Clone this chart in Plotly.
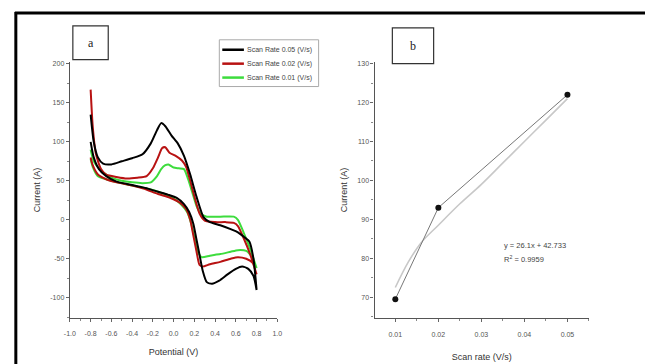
import plotly.graph_objects as go

W, H = 650, 364

# ---------------- data: panel a (cyclic voltammograms) ----------------
# scan rate 0.05 V/s
e05_fwd = [-0.80, -0.77, -0.73, -0.68, -0.60, -0.50, -0.40, -0.30, -0.22, -0.16, -0.12, -0.08, -0.02, 0.04, 0.10, 0.16, 0.22, 0.29, 0.35, 0.45, 0.55, 0.62, 0.68, 0.73, 0.77, 0.80]
i05_fwd = [135, 100, 80, 72, 71, 75, 79, 84, 98, 115, 124, 120, 108, 98, 82, 58, 30, 3, -3, -7, -12, -16, -22, -28, -50, -90]
e05_rev = [0.80, 0.77, 0.72, 0.66, 0.60, 0.52, 0.44, 0.37, 0.32, 0.28, 0.25, 0.22, 0.19, 0.15, 0.10, 0.03, -0.05, -0.15, -0.25, -0.35, -0.45, -0.55, -0.65, -0.72, -0.77, -0.80]
i05_rev = [-90, -72, -63, -60, -63, -70, -78, -82, -80, -65, -45, -25, -5, 10, 20, 28, 32, 36, 40, 43, 46, 49, 56, 65, 80, 100]

# scan rate 0.02 V/s
e02_fwd = [-0.80, -0.78, -0.75, -0.70, -0.65, -0.55, -0.45, -0.35, -0.26, -0.20, -0.15, -0.11, -0.08, -0.04, 0.02, 0.08, 0.12, 0.16, 0.20, 0.25, 0.30, 0.40, 0.50, 0.58, 0.62, 0.68, 0.74, 0.80]
i02_fwd = [167, 120, 85, 65, 58, 55, 53, 54, 56, 66, 80, 92, 93, 86, 82, 76, 68, 50, 30, 8, -1, -3, -3, -4, -8, -25, -45, -70]
e02_rev = [0.80, 0.76, 0.70, 0.62, 0.55, 0.45, 0.35, 0.28, 0.25, 0.22, 0.19, 0.16, 0.12, 0.06, -0.03, -0.15, -0.29, -0.40, -0.55, -0.65, -0.73, -0.78, -0.80]
i02_rev = [-70, -55, -50, -48, -50, -54, -57, -60, -58, -40, -20, 0, 14, 22, 28, 33, 40, 44, 48, 52, 58, 70, 80]

# scan rate 0.01 V/s
e01_fwd = [-0.80, -0.77, -0.72, -0.67, -0.60, -0.50, -0.40, -0.30, -0.22, -0.16, -0.12, -0.08, -0.05, 0.00, 0.05, 0.10, 0.14, 0.18, 0.22, 0.26, 0.32, 0.45, 0.58, 0.62, 0.68, 0.74, 0.80]
i01_fwd = [90, 75, 66, 60, 54, 50, 48, 47, 48, 56, 65, 70, 71, 67, 66, 65, 52, 35, 18, 8, 4, 4, 4, 0, -18, -38, -62]
e01_rev = [0.80, 0.76, 0.70, 0.62, 0.55, 0.45, 0.35, 0.27, 0.23, 0.20, 0.17, 0.13, 0.07, -0.03, -0.15, -0.29, -0.40, -0.54, -0.65, -0.73, -0.78, -0.80]
i01_rev = [-62, -48, -40, -39, -41, -44, -46, -48, -40, -22, -5, 10, 20, 30, 36, 41, 44, 48, 52, 56, 68, 78]

series_names = ["Scan Rate 0.05 (V/s)", "Scan Rate 0.02 (V/s)", "Scan Rate 0.01 (V/s)"]
series_colors = ["#000000", "#b81212", "#3ddc3d"]

# ---------------- data: panel b ----------------
scan_rate = [0.01, 0.02, 0.05]
peak_current = [69.5, 93.0, 122.0]
fit_rate = [0.010, 0.013, 0.016, 0.020, 0.025, 0.030, 0.035, 0.040, 0.045, 0.050]
fit_current = [72.5, 79.0, 84.0, 88.5, 94.0, 99.0, 104.5, 110.0, 115.5, 121.0]
eq_text = ["y = 26.1x + 42.733", "R<sup>2</sup> = 0.9959"]

ya_ticks = [-100, -50, 0, 50, 100, 150, 200]
xa_ticks = [-1.0, -0.8, -0.6, -0.4, -0.2, 0.0, 0.2, 0.4, 0.6, 0.8, 1.0]
yb_ticks = [70, 80, 90, 100, 110, 120, 130]
xb_ticks = [0.01, 0.02, 0.03, 0.04, 0.05]

fig = go.Figure()

loops = [
    (e05_fwd + e05_rev, i05_fwd + i05_rev),
    (e02_fwd + e02_rev, i02_fwd + i02_rev),
    (e01_fwd + e01_rev, i01_fwd + i01_rev),
]
# draw lowest scan rate first so the black sits on top
for idx in [2, 1, 0]:
    ex, iy = loops[idx]
    fig.add_trace(go.Scatter(x=ex, y=iy, mode="lines", name=series_names[idx],
                             line=dict(color=series_colors[idx], width=2.0, shape="spline", smoothing=0.6),
                             xaxis="x", yaxis="y", showlegend=False))

fig.add_trace(go.Scatter(x=fit_rate, y=fit_current, mode="lines",
                         line=dict(color="#c8c8c8", width=1.6, shape="spline"),
                         xaxis="x2", yaxis="y2", showlegend=False))
fig.add_trace(go.Scatter(x=scan_rate, y=peak_current, mode="lines+markers",
                         line=dict(color="#777777", width=1),
                         marker=dict(color="#111111", size=6),
                         xaxis="x2", yaxis="y2", showlegend=False))

def px(x):
    return x / W

def py(y):
    return 1 - y / H

tickfont = dict(family="Liberation Sans, Arial", size=7, color="#555555")
titlefont = dict(family="Liberation Sans, Arial", size=9, color="#333333")

axis_common = dict(showgrid=False, zeroline=False, showline=True, linecolor="#555555", linewidth=1.4,
                   ticks="outside", ticklen=3, tickcolor="#666666", tickfont=tickfont,
                   minor=dict(ticks="outside", ticklen=2, tickcolor="#888888"))

fig.update_layout(
    width=W, height=H, margin=dict(l=0, r=0, t=0, b=0),
    paper_bgcolor="white", plot_bgcolor="white", showlegend=False,
    xaxis=dict(domain=[px(65), px(276)], range=[-1.0, 1.0], anchor="y",
               tickvals=xa_ticks, ticktext=["%.1f" % v for v in xa_ticks],
               ticklabelstandoff=5,
               title=dict(text="Potential (V)", font=titlefont, standoff=12),
               **axis_common),
    yaxis=dict(domain=[py(318), py(60)], range=[-126.3, 202.8], anchor="x",
               tickvals=ya_ticks, ticktext=[str(v) for v in ya_ticks],
               title=dict(text="Current (A)", font=titlefont, standoff=8),
               **axis_common),
    xaxis2=dict(domain=[px(375), px(593)], range=[0.0052, 0.055], anchor="y2",
                tickvals=xb_ticks, ticktext=["%.2f" % v for v in xb_ticks],
                ticklabelstandoff=6,
                title=dict(text="Scan rate (V/s)", font=titlefont, standoff=16),
                **axis_common),
    yaxis2=dict(domain=[py(318), py(60)], range=[64.6, 130.5], anchor="x2",
                tickvals=yb_ticks, ticktext=[str(v) for v in yb_ticks],
                title=dict(text="Current (A)", font=titlefont, standoff=8),
                **axis_common),
)
fig.update_layout(xaxis_minor_dtick=0.1, yaxis_minor_dtick=25, xaxis2_minor_dtick=0.005, yaxis2_minor_dtick=5)

shapes = []
annotations = []
# outer frame (top and left)
shapes.append(dict(type="line", xref="paper", yref="paper", x0=px(9), x1=1, y0=py(11), y1=py(11),
                   line=dict(color="black", width=3)))
shapes.append(dict(type="line", xref="paper", yref="paper", x0=px(10), x1=px(10), y0=py(10), y1=0,
                   line=dict(color="black", width=3)))
# panel label boxes
for (x0, y0, x1, y1, lab) in [(68, 24, 104, 58, "a"), (393, 26, 435, 62, "b")]:
    shapes.append(dict(type="rect", xref="paper", yref="paper", x0=px(x0), x1=px(x1), y0=py(y1), y1=py(y0),
                       line=dict(color="#333333", width=1.2), fillcolor="white"))
    annotations.append(dict(text=lab, xref="paper", yref="paper", x=px((x0 + x1) / 2), y=py((y0 + y1) / 2),
                            showarrow=False, font=dict(family="Liberation Serif", size=12, color="#222222"),
                            xanchor="center", yanchor="middle"))
# legend box
shapes.append(dict(type="rect", xref="paper", yref="paper", x0=px(217), x1=px(318), y0=py(85), y1=py(38),
                   line=dict(color="#aaaaaa", width=1), fillcolor="rgba(255,255,255,0)"))
for k, yy in enumerate([48, 62, 76]):
    shapes.append(dict(type="line", xref="paper", yref="paper", x0=px(220), x1=px(242), y0=py(yy), y1=py(yy),
                       line=dict(color=series_colors[k], width=2.5)))
    annotations.append(dict(text=series_names[k], xref="paper", yref="paper", x=px(243), y=py(yy),
                            showarrow=False, xanchor="left", yanchor="middle",
                            font=dict(family="Liberation Sans, Arial", size=7, color="#444444")))
# equation
for k, yy in enumerate([245, 258]):
    annotations.append(dict(text=eq_text[k], xref="paper", yref="paper", x=px(505), y=py(yy),
                            showarrow=False, xanchor="left", yanchor="middle",
                            font=dict(family="Liberation Sans, Arial", size=7.5, color="#444444")))

fig.update_layout(shapes=shapes, annotations=annotations)
fig.write_html("out.html")
